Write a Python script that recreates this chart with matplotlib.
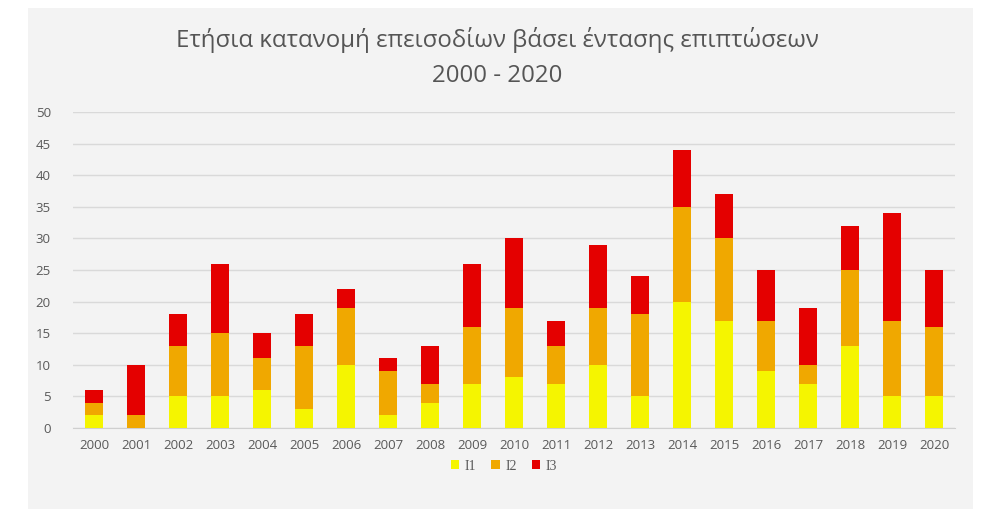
import matplotlib
matplotlib.use("Agg")
import matplotlib.pyplot as plt
from matplotlib.patches import Rectangle
import numpy as np

years = [str(y) for y in range(2000, 2021)]
i1 = [2, 0, 5, 5, 6, 3, 10, 2, 4, 7, 8, 7, 10, 5, 20, 17, 9, 7, 13, 5, 5]
i2 = [2, 2, 8, 10, 5, 10, 9, 7, 3, 9, 11, 6, 9, 13, 15, 13, 8, 3, 12, 12, 11]
i3 = [2, 8, 5, 11, 4, 5, 3, 2, 6, 10, 11, 4, 10, 6, 9, 7, 8, 9, 7, 17, 9]
series_names = ["I1", "I2", "I3"]
colors = ["#f5f500", "#f0a800", "#e40000"]

title_line1 = "Ετήσια κατανομή επεισοδίων βάσει έντασης επιπτώσεων"
title_line2 = "2000 - 2020"

plt.rcParams['font.family'] = ['Open Sans', 'DejaVu Sans']

W, H = 987, 509
fig = plt.figure(figsize=(W / 100, H / 100), dpi=100, facecolor="white")

# light gray chart panel behind everything
fig.patches.append(Rectangle((28 / W, 0), (973 - 28) / W, (H - 8) / H,
                             transform=fig.transFigure, facecolor="#f3f3f3",
                             edgecolor="none", zorder=-10))

ax_left, ax_right = 73, 955
ax = fig.add_axes([ax_left / W, (H - 428) / H, (ax_right - ax_left) / W, (428 - 112) / H])
ax.set_facecolor("none")

x = np.arange(len(years))
a1 = np.array(i1)
a2 = np.array(i2)
a3 = np.array(i3)
width = 0.44
ax.bar(x, a1, width, color=colors[0], label=series_names[0], zorder=3)
ax.bar(x, a2, width, bottom=a1, color=colors[1], label=series_names[1], zorder=3)
ax.bar(x, a3, width, bottom=a1 + a2, color=colors[2], label=series_names[2], zorder=3)

ax.set_xlim(-0.5, len(years) - 0.5)
ax.set_ylim(0, 50)
ax.set_yticks(range(0, 51, 5))
ax.set_xticks(x)
ax.set_xticklabels(years)
ax.grid(axis="y", color="#d9d9d9", linewidth=1, zorder=0)
for side in ["top", "right", "left"]:
    ax.spines[side].set_visible(False)
ax.spines["bottom"].set_color("#cfcfcf")
ax.tick_params(axis="both", length=0, labelsize=9.5, labelcolor="#595959")
ax.tick_params(axis="x", pad=8)
ax.tick_params(axis="y", pad=16)

fig.text(497 / W, 1 - 40 / H, title_line1, ha="center", va="center",
         fontsize=17.3, color="#555555")
fig.text(497 / W, 1 - 76 / H, title_line2, ha="center", va="center",
         fontsize=17.3, color="#555555")

leg = ax.legend(loc="center",
                bbox_to_anchor=((504 - ax_left) / (ax_right - ax_left),
                                (428 - 466) / (428 - 112)),
                ncol=3, frameon=False,
                prop={"family": ["Liberation Serif", "DejaVu Serif"], "size": 10},
                handlelength=0.6, handleheight=0.6, handletextpad=0.4,
                columnspacing=1.1)
for t in leg.get_texts():
    t.set_color("#595959")

fig.savefig("out.png", dpi=100, facecolor="white")
